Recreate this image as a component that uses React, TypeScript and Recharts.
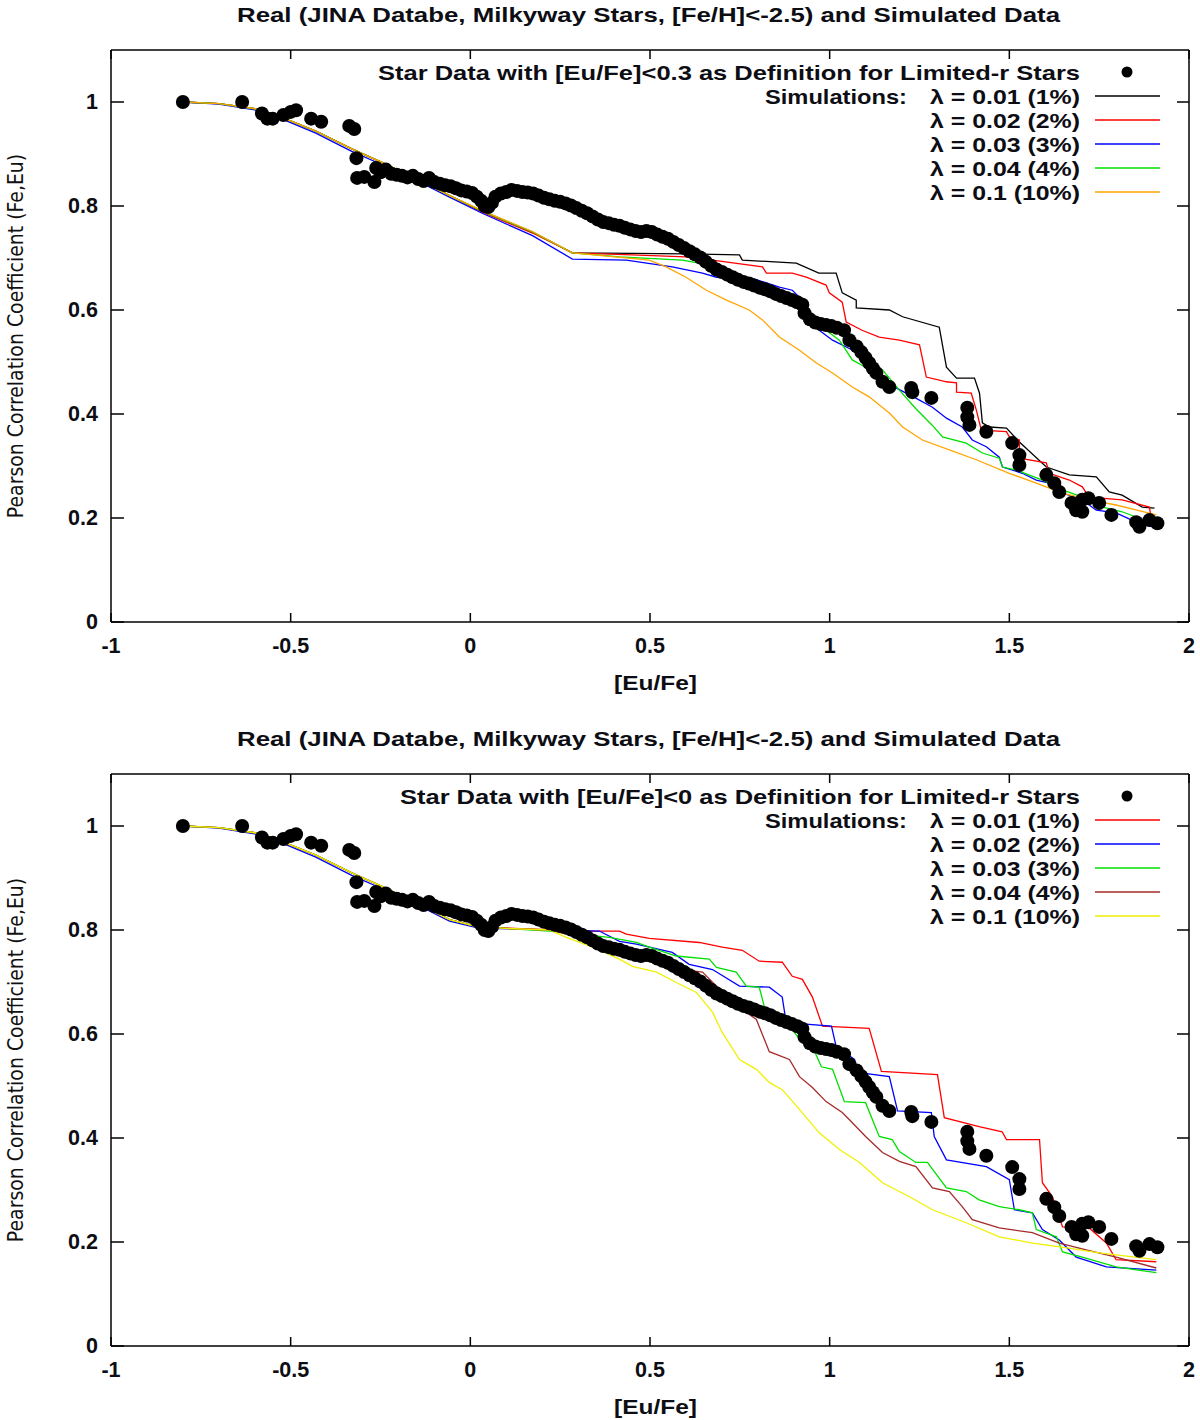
import React from "react";
import { ComposedChart, Line, Scatter, XAxis, YAxis } from "recharts";

// ---------- data ----------
const X_TICKS = [-1, -0.5, 0, 0.5, 1, 1.5, 2];
const Y_TICKS = [0, 0.2, 0.4, 0.6, 0.8, 1];

const TITLE = "Real (JINA Databe, Milkyway Stars, [Fe/H]<-2.5) and Simulated Data";
const X_LABEL = "[Eu/Fe]";
const Y_LABEL = "Pearson Correlation Coefficient (Fe,Eu)";
const LEGEND_TOP_STAR = "Star Data with [Eu/Fe]<0.3 as Definition for Limited-r Stars";
const LEGEND_BOTTOM_STAR = "Star Data with [Eu/Fe]<0 as Definition for Limited-r Stars";
const SIM_PREFIX = "Simulations:";
const LAMBDA_LABELS = ["λ = 0.01 (1%)", "λ = 0.02 (2%)", "λ = 0.03 (3%)", "λ = 0.04 (4%)", "λ = 0.1 (10%)"];
const TOP_COLORS = ["#000000", "#ff0000", "#0000ff", "#00e000", "#ffa500"];
const BOTTOM_COLORS = ["#ff0000", "#0000ff", "#00e000", "#a52a2a", "#f0f000"];

const STARS: number[][] = [
  [-0.8, 1.0], [-0.635, 1.0], [-0.58, 0.978], [-0.565, 0.968], [-0.55, 0.968], [-0.52, 0.975],
  [-0.5, 0.981], [-0.485, 0.984], [-0.443, 0.968], [-0.415, 0.962], [-0.337, 0.954], [-0.323, 0.948],
  [-0.317, 0.892], [-0.315, 0.854], [-0.295, 0.856], [-0.267, 0.846], [-0.262, 0.873],
  [-0.25, 0.865], [-0.235, 0.87], [-0.22, 0.862], [-0.205, 0.86], [-0.19, 0.858], [-0.175, 0.855],
  [-0.16, 0.858], [-0.145, 0.852], [-0.13, 0.848], [-0.115, 0.854], [-0.1, 0.846], [-0.085, 0.843],
  [-0.07, 0.84], [-0.055, 0.838], [-0.04, 0.834], [-0.025, 0.83], [-0.01, 0.828], [0.005, 0.825],
  [0.018, 0.818], [0.03, 0.81], [0.04, 0.8], [0.05, 0.798], [0.06, 0.806], [0.07, 0.818],
  [0.085, 0.824], [0.1, 0.827], [0.115, 0.831], [0.13, 0.829], [0.145, 0.827], [0.16, 0.826],
  [0.175, 0.824], [0.19, 0.82], [0.205, 0.816], [0.22, 0.813], [0.235, 0.81], [0.25, 0.808],
  [0.265, 0.805], [0.28, 0.801], [0.295, 0.796], [0.31, 0.791], [0.325, 0.786], [0.34, 0.78],
  [0.355, 0.774], [0.37, 0.769], [0.385, 0.767], [0.4, 0.764], [0.415, 0.762], [0.43, 0.758],
  [0.445, 0.755], [0.46, 0.752], [0.475, 0.75], [0.49, 0.752], [0.505, 0.75], [0.52, 0.745],
  [0.535, 0.741], [0.55, 0.737], [0.565, 0.731], [0.58, 0.725], [0.595, 0.719], [0.61, 0.713],
  [0.625, 0.707], [0.64, 0.701], [0.655, 0.693], [0.67, 0.685], [0.685, 0.678], [0.7, 0.673],
  [0.715, 0.668], [0.73, 0.663], [0.745, 0.658], [0.76, 0.654], [0.775, 0.651], [0.79, 0.647],
  [0.805, 0.643], [0.82, 0.64], [0.835, 0.636], [0.85, 0.631], [0.865, 0.627], [0.88, 0.623],
  [0.895, 0.619], [0.91, 0.615], [0.924, 0.61], [0.93, 0.594], [0.945, 0.582], [0.96, 0.576],
  [0.975, 0.573], [0.99, 0.571], [1.005, 0.569], [1.02, 0.566], [1.04, 0.561], [1.055, 0.542],
  [1.075, 0.53], [1.088, 0.519], [1.1, 0.508], [1.11, 0.498], [1.12, 0.488], [1.13, 0.479],
  [1.147, 0.462], [1.166, 0.452], [1.227, 0.45], [1.23, 0.442], [1.283, 0.431], [1.383, 0.412],
  [1.383, 0.394], [1.389, 0.379], [1.436, 0.366], [1.508, 0.344], [1.528, 0.321], [1.528, 0.302],
  [1.603, 0.283], [1.625, 0.267], [1.639, 0.25], [1.673, 0.229], [1.686, 0.215], [1.703, 0.212],
  [1.703, 0.235], [1.72, 0.238], [1.75, 0.229], [1.784, 0.206], [1.853, 0.192], [1.862, 0.183],
  [1.89, 0.196], [1.912, 0.19],
];

// shared early part of every simulation curve
const HEAD: number[][] = [
  [-0.8, 1.0], [-0.7, 0.997], [-0.6, 0.987], [-0.53, 0.972], [-0.43, 0.944], [-0.33, 0.91],
  [-0.234, 0.88], [-0.15, 0.852], [-0.058, 0.82],
];
const HEAD_BLUE: number[][] = [
  [-0.8, 1.0], [-0.7, 0.996], [-0.6, 0.985], [-0.53, 0.969], [-0.43, 0.94], [-0.33, 0.905],
  [-0.234, 0.876], [-0.15, 0.849], [-0.058, 0.817],
];

// top panel simulations
const TOP_L001: number[][] = [
  ...HEAD, [0.033, 0.79], [0.173, 0.75], [0.284, 0.71], [0.45, 0.709], [0.6, 0.708], [0.749, 0.706],
  [0.757, 0.696], [0.907, 0.69], [0.97, 0.671], [1.018, 0.671], [1.035, 0.633], [1.074, 0.619],
  [1.074, 0.604], [1.166, 0.6], [1.203, 0.587], [1.305, 0.567], [1.325, 0.49], [1.353, 0.469],
  [1.403, 0.469], [1.417, 0.44], [1.425, 0.383], [1.444, 0.375], [1.492, 0.373], [1.528, 0.346],
  [1.603, 0.298], [1.667, 0.283], [1.742, 0.279], [1.778, 0.25], [1.814, 0.244], [1.87, 0.221],
  [1.904, 0.219],
];
const TOP_L002: number[][] = [
  ...HEAD, [0.033, 0.788], [0.173, 0.748], [0.284, 0.71], [0.45, 0.706], [0.6, 0.702], [0.674, 0.696],
  [0.813, 0.683], [0.824, 0.671], [0.896, 0.671], [0.935, 0.663], [0.99, 0.648], [0.999, 0.633],
  [1.035, 0.615], [1.046, 0.577], [1.09, 0.561], [1.138, 0.548], [1.194, 0.542], [1.25, 0.533],
  [1.269, 0.471], [1.325, 0.462], [1.353, 0.46], [1.353, 0.442], [1.394, 0.44], [1.408, 0.408],
  [1.422, 0.369], [1.492, 0.366], [1.5, 0.356], [1.528, 0.35], [1.528, 0.315], [1.603, 0.306],
  [1.611, 0.286], [1.667, 0.273], [1.703, 0.26], [1.722, 0.24], [1.814, 0.235], [1.89, 0.221],
  [1.895, 0.196],
];
const TOP_L003: number[][] = [
  ...HEAD_BLUE, [0.033, 0.786], [0.173, 0.743], [0.284, 0.698], [0.434, 0.696], [0.562, 0.683],
  [0.646, 0.671], [0.685, 0.663], [0.785, 0.661], [0.86, 0.644], [0.896, 0.638], [0.924, 0.619],
  [0.952, 0.581], [0.971, 0.561], [1.008, 0.542], [1.063, 0.523], [1.102, 0.504], [1.13, 0.479],
  [1.174, 0.454], [1.241, 0.43], [1.286, 0.413], [1.325, 0.392], [1.369, 0.375], [1.397, 0.35],
  [1.436, 0.337], [1.472, 0.317], [1.481, 0.298], [1.536, 0.286], [1.575, 0.273], [1.611, 0.267],
  [1.648, 0.248], [1.703, 0.235], [1.742, 0.215], [1.797, 0.21], [1.853, 0.192], [1.898, 0.183],
];
const TOP_L004: number[][] = [
  ...HEAD, [0.033, 0.79], [0.173, 0.75], [0.284, 0.71], [0.415, 0.702], [0.59, 0.696], [0.637, 0.69],
  [0.674, 0.671], [0.713, 0.658], [0.776, 0.644], [0.84, 0.633], [0.88, 0.625], [0.915, 0.603],
  [0.952, 0.587], [0.99, 0.561], [1.027, 0.542], [1.063, 0.504], [1.1, 0.49], [1.147, 0.485],
  [1.194, 0.446], [1.24, 0.41], [1.286, 0.378], [1.314, 0.356], [1.38, 0.344], [1.425, 0.325],
  [1.472, 0.315], [1.481, 0.298], [1.52, 0.292], [1.592, 0.273], [1.648, 0.254], [1.703, 0.24],
  [1.759, 0.221], [1.814, 0.212], [1.89, 0.192], [1.909, 0.19],
];
const TOP_L010: number[][] = [
  ...HEAD, [0.033, 0.791], [0.173, 0.751], [0.284, 0.71], [0.498, 0.696], [0.545, 0.683], [0.6, 0.663],
  [0.657, 0.638], [0.713, 0.619], [0.776, 0.6], [0.813, 0.581], [0.86, 0.548], [0.915, 0.523],
  [0.963, 0.498], [1.008, 0.479], [1.063, 0.452], [1.11, 0.433], [1.166, 0.402], [1.203, 0.375],
  [1.258, 0.35], [1.333, 0.331], [1.408, 0.312], [1.5, 0.286], [1.575, 0.267], [1.648, 0.248],
  [1.722, 0.235], [1.797, 0.225], [1.909, 0.206],
];

// bottom panel simulations
const BOT_L001: number[][] = [
  ...HEAD, [0.02, 0.806], [0.06, 0.805], [0.312, 0.798], [0.415, 0.798], [0.434, 0.792], [0.498, 0.784],
  [0.637, 0.776], [0.701, 0.767], [0.757, 0.761], [0.804, 0.74], [0.868, 0.738], [0.896, 0.711],
  [0.924, 0.705], [0.952, 0.671], [0.98, 0.615], [1.11, 0.611], [1.144, 0.528], [1.3, 0.522],
  [1.319, 0.439], [1.416, 0.422], [1.48, 0.412], [1.492, 0.397], [1.584, 0.397], [1.592, 0.314],
  [1.62, 0.287], [1.648, 0.229], [1.722, 0.227], [1.77, 0.198], [1.797, 0.166], [1.909, 0.162],
];
const BOT_L002: number[][] = [
  ...HEAD_BLUE, [0.02, 0.804], [0.053, 0.803], [0.359, 0.798], [0.415, 0.778], [0.462, 0.773],
  [0.562, 0.757], [0.609, 0.734], [0.674, 0.724], [0.749, 0.692], [0.832, 0.69], [0.868, 0.671],
  [0.879, 0.622], [1.005, 0.615], [1.018, 0.576], [1.069, 0.551], [1.077, 0.526], [1.166, 0.518],
  [1.189, 0.452], [1.283, 0.449], [1.291, 0.403], [1.325, 0.358], [1.436, 0.345], [1.5, 0.32],
  [1.514, 0.262], [1.564, 0.256], [1.592, 0.224], [1.639, 0.204], [1.686, 0.171], [1.77, 0.152],
  [1.909, 0.146],
];
const BOT_L003: number[][] = [
  ...HEAD, [0.02, 0.806], [0.1, 0.803], [0.22, 0.798], [0.387, 0.786], [0.462, 0.776], [0.498, 0.767],
  [0.573, 0.75], [0.665, 0.744], [0.685, 0.728], [0.74, 0.719], [0.768, 0.692], [0.804, 0.69],
  [0.818, 0.653], [0.868, 0.632], [0.896, 0.609], [0.916, 0.59], [0.952, 0.576], [0.977, 0.537],
  [1.008, 0.532], [1.041, 0.47], [1.1, 0.468], [1.138, 0.403], [1.174, 0.397], [1.194, 0.374],
  [1.24, 0.353], [1.272, 0.353], [1.325, 0.304], [1.38, 0.297], [1.416, 0.281], [1.472, 0.268],
  [1.528, 0.262], [1.564, 0.256], [1.575, 0.224], [1.631, 0.21], [1.648, 0.181], [1.703, 0.171],
  [1.797, 0.152], [1.909, 0.141],
];
const BOT_L004: number[][] = [
  ...HEAD, [0.02, 0.806], [0.1, 0.803], [0.22, 0.8], [0.295, 0.788], [0.387, 0.776], [0.462, 0.759],
  [0.545, 0.744], [0.59, 0.724], [0.646, 0.719], [0.685, 0.692], [0.73, 0.672], [0.757, 0.647],
  [0.796, 0.628], [0.832, 0.566], [0.888, 0.551], [0.916, 0.518], [0.952, 0.497], [0.99, 0.47],
  [1.035, 0.449], [1.055, 0.435], [1.1, 0.403], [1.147, 0.372], [1.194, 0.355], [1.24, 0.345],
  [1.286, 0.304], [1.333, 0.297], [1.369, 0.268], [1.397, 0.243], [1.472, 0.227], [1.564, 0.218],
  [1.639, 0.198], [1.714, 0.185], [1.797, 0.171], [1.909, 0.15],
];
const BOT_L010: number[][] = [
  ...HEAD, [0.02, 0.806], [0.1, 0.803], [0.22, 0.8], [0.267, 0.786], [0.34, 0.767], [0.415, 0.744],
  [0.451, 0.73], [0.518, 0.719], [0.573, 0.699], [0.629, 0.68], [0.674, 0.642], [0.701, 0.603],
  [0.749, 0.551], [0.796, 0.532], [0.832, 0.507], [0.868, 0.493], [0.916, 0.455], [0.971, 0.41],
  [1.027, 0.378], [1.083, 0.353], [1.147, 0.314], [1.222, 0.287], [1.286, 0.262], [1.38, 0.237],
  [1.472, 0.21], [1.564, 0.198], [1.656, 0.189], [1.75, 0.179], [1.909, 0.166],
];

// ---------- helpers ----------
const toPts = (arr: number[][]) => arr.map(([x, y]) => ({ x, y }));

const W = 1200;
const H = 700;
const PLOT_LEFT = 111;
const PLOT_RIGHT = 1189;
const PLOT_TOP = 50;
const PLOT_BOTTOM = 622;

const BOLD: React.CSSProperties = {
  fontFamily: "'Liberation Sans', Arial, Helvetica, sans-serif",
  fontWeight: "bold",
  fontSize: 21,
  fill: "#0d0d14",
};
const TICK_FONT: React.CSSProperties = { ...BOLD, fontSize: 21.5 };

const XTickBottom = (p: any) => (
  <g>
    <line x1={p.x} y1={p.y} x2={p.x} y2={p.y - 9} stroke="#000" strokeWidth={1.5} />
    <text x={p.x} y={p.y + 24} textAnchor="middle" dominantBaseline="central" style={TICK_FONT}>
      {String(p.payload.value)}
    </text>
  </g>
);
const XTickTop = (p: any) => (
  <line x1={p.x} y1={p.y} x2={p.x} y2={p.y + 9} stroke="#000" strokeWidth={1.5} />
);
const YTickLeft = (p: any) => (
  <g>
    <line x1={p.x} y1={p.y} x2={p.x + 13} y2={p.y} stroke="#000" strokeWidth={1.5} />
    <text x={p.x - 13} y={p.y} textAnchor="end" dominantBaseline="central" style={TICK_FONT}>
      {String(p.payload.value)}
    </text>
  </g>
);
const YTickRight = (p: any) => (
  <line x1={p.x} y1={p.y} x2={p.x - 12} y2={p.y} stroke="#000" strokeWidth={1.5} />
);

const StarDot = (p: any) => <circle cx={p.cx} cy={p.cy} r={7} fill="#000" />;

type PanelProps = {
  top: number;
  starLabel: string;
  starLabelWidth: number;
  series: number[][][];
  colors: string[];
};

const Panel = ({ top, starLabel, starLabelWidth, series, colors }: PanelProps) => {
  const legendX = 1080;
  const rowY = (i: number) => 72 + 24 * i;
  return (
    <div style={{ position: "absolute", left: 0, top, width: W, height: H }}>
      <ComposedChart
        width={W}
        height={H}
        margin={{ top: PLOT_TOP - 10, right: W - PLOT_RIGHT - 10, bottom: H - PLOT_BOTTOM - 30, left: PLOT_LEFT - 60 }}
      >
        <XAxis
          dataKey="x"
          type="number"
          domain={[-1, 2]}
          ticks={X_TICKS}
          interval={0}
          allowDataOverflow
          height={30}
          tickSize={0}
          tickMargin={0}
          tick={XTickBottom}
          axisLine={{ stroke: "#000", strokeWidth: 1.5 }}
        />
        <XAxis
          xAxisId="top"
          orientation="top"
          dataKey="x"
          type="number"
          domain={[-1, 2]}
          ticks={X_TICKS}
          interval={0}
          allowDataOverflow
          height={10}
          tickSize={0}
          tickMargin={0}
          tick={XTickTop}
          axisLine={{ stroke: "#000", strokeWidth: 1.5 }}
        />
        <YAxis
          dataKey="y"
          type="number"
          domain={[0, 1.1]}
          ticks={Y_TICKS}
          interval={0}
          allowDataOverflow
          width={60}
          tickSize={0}
          tickMargin={0}
          tick={YTickLeft}
          axisLine={{ stroke: "#000", strokeWidth: 1.5 }}
        />
        <YAxis
          yAxisId="right"
          orientation="right"
          dataKey="y"
          type="number"
          domain={[0, 1.1]}
          ticks={Y_TICKS}
          interval={0}
          allowDataOverflow
          width={10}
          tickSize={0}
          tickMargin={0}
          tick={YTickRight}
          axisLine={{ stroke: "#000", strokeWidth: 1.5 }}
        />
        <Scatter data={toPts(STARS)} dataKey="y" shape={StarDot} isAnimationActive={false} />
        {series.map((s, i) => (
          <Line
            key={i}
            data={toPts(s)}
            dataKey="y"
            type="linear"
            stroke={colors[i]}
            strokeWidth={1.3}
            dot={false}
            activeDot={false}
            isAnimationActive={false}
          />
        ))}
      </ComposedChart>
      <svg
        width={W}
        height={H}
        style={{ position: "absolute", left: 0, top: 0, pointerEvents: "none" }}
      >
        <text
          x={237}
          y={14}
          textLength={823}
          lengthAdjust="spacingAndGlyphs"
          dominantBaseline="central"
          style={BOLD}
        >
          {TITLE}
        </text>
        <text
          x={614}
          y={682}
          textLength={83}
          lengthAdjust="spacingAndGlyphs"
          dominantBaseline="central"
          style={BOLD}
        >
          {X_LABEL}
        </text>
        <text
          x={0}
          y={0}
          transform={`translate(16, 336) rotate(-90)`}
          textAnchor="middle"
          dominantBaseline="central"
          style={{
            fontFamily: "'Liberation Sans Narrow', 'DejaVu Sans Condensed', Arial, sans-serif",
            fontSize: 21,
            fill: "#111",
          }}
        >
          {Y_LABEL}
        </text>
        <text
          x={legendX - starLabelWidth}
          y={rowY(0)}
          textLength={starLabelWidth}
          lengthAdjust="spacingAndGlyphs"
          dominantBaseline="central"
          style={BOLD}
        >
          {starLabel}
        </text>
        <circle cx={1127} cy={rowY(0)} r={5.5} fill="#000" />
        <text
          x={765}
          y={rowY(1)}
          textLength={142}
          lengthAdjust="spacingAndGlyphs"
          dominantBaseline="central"
          style={BOLD}
        >
          {SIM_PREFIX}
        </text>
        {LAMBDA_LABELS.map((lab, i) => (
          <g key={lab}>
            <text
              x={930}
              y={rowY(i + 1)}
              textLength={150}
              lengthAdjust="spacingAndGlyphs"
              dominantBaseline="central"
              style={BOLD}
            >
              {lab}
            </text>
            <line x1={1095} y1={rowY(i + 1)} x2={1160} y2={rowY(i + 1)} stroke={colors[i]} strokeWidth={1.5} />
          </g>
        ))}
      </svg>
    </div>
  );
};

export default function App() {
  return (
    <div style={{ position: "absolute", left: 0, top: 0, width: W, height: 1420, background: "#fff", overflow: "hidden" }}>
      <Panel
        top={0}
        starLabel={LEGEND_TOP_STAR}
        starLabelWidth={702}
        series={[TOP_L001, TOP_L002, TOP_L003, TOP_L004, TOP_L010]}
        colors={TOP_COLORS}
      />
      <Panel
        top={724}
        starLabel={LEGEND_BOTTOM_STAR}
        starLabelWidth={680}
        series={[BOT_L001, BOT_L002, BOT_L003, BOT_L004, BOT_L010]}
        colors={BOTTOM_COLORS}
      />
    </div>
  );
}
